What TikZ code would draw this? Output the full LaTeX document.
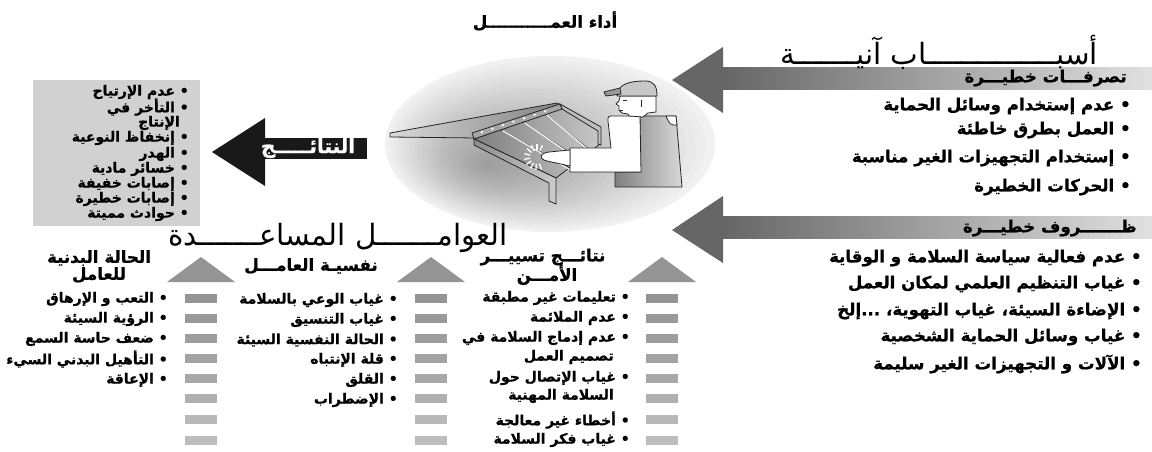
\documentclass[tikz,border=0pt]{standalone}
\usepackage{fontspec}
\usetikzlibrary{calc}
\TeXXeTstate=1
\newfontfamily\arabfont[Script=Arabic, BoldFeatures={FakeBold=0.8}]{DejaVu Sans}
\newcommand{\rtl}[1]{\beginR #1\endR}

\begin{document}
\begin{tikzpicture}[x=0.75pt,y=-0.75pt,
  itm/.style={anchor=east, inner sep=0pt, font=\arabfont\bfseries\fontsize{12.5}{14}\selectfont},
  boxitm/.style={anchor=east, inner sep=0pt, font=\arabfont\bfseries\fontsize{10.5}{12}\selectfont},
  colitm/.style={anchor=east, inner sep=0pt, font=\arabfont\bfseries\fontsize{10.5}{12}\selectfont},
  colhead/.style={anchor=center, inner sep=0pt, font=\arabfont\bfseries\fontsize{12.5}{14}\selectfont},
  bigtitle/.style={inner sep=0pt, font=\arabfont\fontsize{22}{24}\selectfont},
  bandtitle/.style={anchor=east, inner sep=0pt, font=\arabfont\bfseries\fontsize{12.5}{14}\selectfont},
  uptri/.style={fill=black!42},
  bar/.style={fill=black!#1},
  outline/.style={draw=black!85, line width=0.6pt}
]
\useasboundingbox (0,0) rectangle (1152,452);
\fill[white] (0,0) rectangle (1152,452);

% ---------- work scene ----------
% soft grey spot: stacked translucent ellipses, darkest towards the lower left
\fill[black!4] (550,144) ellipse [x radius=165, y radius=88];
\foreach \i in {1,...,24}{
  \pgfmathsetmacro\f{\i/24}
  \fill[black, opacity=0.016] ({550-65*(1-\f)},{144+22*(1-\f)}) ellipse [x radius={165*\f}, y radius={88*\f}];
}

% sloping feed plate
\shadedraw[left color=black!15, right color=black!50, outline]
  (390,133) -- (557,103) -- (563,107) -- (476,138) -- (390,137) -- cycle;

% sorting tray
\shadedraw[left color=black!50, right color=black!22, outline]
  (474,139) -- (562,108) -- (600,129) -- (600,144) -- (556,178) -- cycle;
\foreach \t in {0.3,0.55,0.8}{
  \draw[black!80, line width=0.6pt] ($(474,139)!\t!(562,108)$) -- ($(556,178)!\t!(600,144)$);
  \draw[white, line width=0.8pt] ($(474,139)!\t!(562,108)+(2,1)$) -- ($(556,178)!\t!(600,144)+(1,2)$);
}
% tray end wall
\filldraw[fill=black!25, outline] (560,104) -- (601,127) -- (601,145) -- (598,144) -- (598,131) -- (562,109) -- cycle;
% front rim with bolts
\filldraw[fill=black!35, outline] (472,133) -- (560,104) -- (562,109) -- (474,139) -- cycle;
\foreach \t in {0.1,0.22,0.34,0.46,0.58,0.7,0.82}{
  \fill[white] ($(473,135)!\t!(561,106)$) circle [radius=1.3];
}
% front board and leg
\shadedraw[left color=black!45, right color=black!20, outline]
  (474,139) -- (556,178) -- (556,204) -- (549,201) -- (549,183) -- (474,145) -- cycle;

% worker: vest
\shadedraw[left color=black!50, right color=black!15, outline]
  (640,116) -- (676,116) -- (682,187) -- (615,187) -- (615,172) -- (640,172) -- cycle;
\filldraw[fill=white, outline] (666,116) -- (676,116) -- (677,125) .. controls (670,125) .. (666,116);
% shirt sleeve and forearm
\filldraw[fill=white, outline]
  (608,121) .. controls (608,116) .. (614,116) -- (640,116) -- (641,172) -- (570,172) -- (570,148) -- (611,148) -- cycle;
% hand
\filldraw[fill=white, outline]
  (570,150) -- (549,152) .. controls (540,153) and (538,159) .. (547,161) -- (570,166) -- cycle;
% sparkle at the fingertips
\foreach \a in {70,95,...,300}{
  \draw[white, line width=1pt] ($(537,157)+(\a:7)$) -- ($(537,157)+(\a:13)$);
}
% head
\filldraw[fill=white, outline]
  (620,96) -- (619,101) -- (616,104) -- (619,106) -- (619,110) -- (622,113) -- (628,114)
  -- (629,116) -- (643,117) -- (648,113) -- (656,112) -- (656,96) -- cycle;
\draw[black!85, line width=0.6pt] (623,100) -- (627,100) (620,110) -- (623,110) (641,100) -- (641,107);
% cap
\filldraw[fill=black!22, outline] (617,96) .. controls (617,84) and (630,81) .. (645,81)
  .. controls (654,81) and (657,86) .. (657,96) -- cycle;
\filldraw[fill=black!40, outline] (604,92) -- (620,88) -- (621,94) -- (606,96) -- cycle;

\node[inner sep=0pt, font=\arabfont\bfseries\fontsize{12.5}{14}\selectfont] (perf) at (545,21) {\rtl{أداء العمـــــــــــل}};

% ---------- immediate causes ----------
\shade[left color=black!60, right color=black!12] (723,68) rectangle (1152,90);
\fill[black!60] (672,80) -- (723,47) -- (723,113) -- cycle;
\node[bigtitle, anchor=east] (causes) at (1098,52) {\rtl{أسبـــــــــــــــاب آنيـــــــة}};
\node[bandtitle] (acts) at (1127,78) {\rtl{تصرفـــات خطيـــرة}};
\node[itm] (a1) at (1131,106) {\rtl{• عدم إستخدام وسائل الحماية}};
\node[itm] (a2) at (1131,130) {\rtl{• العمل بطرق خاطئة}};
\node[itm] (a3) at (1131,158) {\rtl{• إستخدام التجهيزات الغير مناسبة}};
\node[itm] (a4) at (1131,187) {\rtl{• الحركات الخطيرة}};

\shade[left color=black!60, right color=black!12] (723,217) rectangle (1152,239);
\fill[black!60] (672,230) -- (723,196) -- (723,263) -- cycle;
\node[bandtitle] (conds) at (1137,228) {\rtl{ظـــــــروف خطيـــرة}};
\node[itm] (c1) at (1142,258) {\rtl{• عدم فعالية سياسة السلامة و الوقاية}};
\node[itm] (c2) at (1142,284) {\rtl{• غياب التنظيم العلمي لمكان العمل}};
\node[itm] (c3) at (1142,311) {\rtl{• الإضاءة السيئة، غياب التهوية، ...إلخ}};
\node[itm] (c4) at (1142,337) {\rtl{• غياب وسائل الحماية الشخصية}};
\node[itm] (c5) at (1142,364) {\rtl{• الآلات و التجهيزات الغير سليمة}};

% ---------- results ----------
\fill[black!90] (212,152) -- (265,118) -- (265,186) -- cycle;
\fill[black!90] (264,138) rectangle (367,159);
\node[inner sep=0pt, text=white, font=\arabfont\bfseries\fontsize{15}{17}\selectfont] (res) at (308,148) {\rtl{النتائـــــج}};

\fill[black!18] (33,80) rectangle (200,226);
\node[boxitm] (r1) at (189,92)  {\rtl{• عدم الإرتياح}};
\node[boxitm] (r2) at (189,107) {\rtl{• التأخر في}};
\node[boxitm] (r2b) at (180,123) {\rtl{الإنتاج}};
\node[boxitm] (r3) at (189,138) {\rtl{• إنخفاظ النوعية}};
\node[boxitm] (r4) at (189,154) {\rtl{• الهدر}};
\node[boxitm] (r5) at (189,169) {\rtl{• خسائر مادية}};
\node[boxitm] (r6) at (189,184) {\rtl{• إصابات خفيفة}};
\node[boxitm] (r7) at (189,199) {\rtl{• إصابات خطيرة}};
\node[boxitm] (r8) at (189,214) {\rtl{• حوادث مميتة}};

% ---------- contributing factors ----------
\node[bigtitle, anchor=east] (factors) at (508,238) {\rtl{العوامـــــــل المساعـــــــدة}};

\foreach \cx in {201,431,662}{
  \fill[uptri] (\cx-34,282) -- (\cx,257) -- (\cx+34,282) -- cycle;
  \foreach \y/\g in {294/42,314/40,334/38,354/36,374/34,394/31,415/28,436/26}{
    \fill[bar=\g] (\cx-16,\y) rectangle (\cx+16,\y+9);
  }
}

\node[colhead] (h1a) at (99,258) {\rtl{الحالة البدنية}};
\node[colhead] (h1b) at (99,275) {\rtl{للعامل}};
\node[colhead] (h2) at (311,266) {\rtl{نفسيـة العامـــل}};
\node[colhead] (h3a) at (543,257) {\rtl{نتائـــج تسييـــر}};
\node[colhead] (h3b) at (547,275) {\rtl{الأمـــن}};

\node[colitm] (p1) at (168,299) {\rtl{• التعب و الإرهاق}};
\node[colitm] (p2) at (168,319) {\rtl{• الرؤية السيئة}};
\node[colitm] (p3) at (168,339) {\rtl{• ضعف حاسة السمع}};
\node[colitm] (p4) at (168,359) {\rtl{• التأهيل البدني السيء}};
\node[colitm] (p5) at (168,380) {\rtl{• الإعاقة}};

\node[colitm] (m1) at (398,300) {\rtl{• غياب الوعي بالسلامة}};
\node[colitm] (m2) at (398,320) {\rtl{• غياب التنسيق}};
\node[colitm] (m3) at (398,340) {\rtl{• الحالة النفسية السيئة}};
\node[colitm] (m4) at (398,360) {\rtl{• قلة الإنتباه}};
\node[colitm] (m5) at (398,380) {\rtl{• القلق}};
\node[colitm] (m6) at (398,400) {\rtl{• الإضطراب}};

\node[colitm] (s1) at (630,298) {\rtl{• تعليمات غير مطبقة}};
\node[colitm] (s2) at (630,318) {\rtl{• عدم الملائمة}};
\node[colitm] (s3) at (630,338) {\rtl{• عدم إدماج السلامة في}};
\node[colitm] (s3b) at (614,357) {\rtl{تصميم العمل}};
\node[colitm] (s4) at (630,378) {\rtl{• غياب الإتصال حول}};
\node[colitm] (s4b) at (614,396) {\rtl{السلامة المهنية}};
\node[colitm] (s5) at (630,420) {\rtl{• أخطاء غير معالجة}};
\node[colitm] (s6) at (630,440) {\rtl{• غياب فكر السلامة}};
\end{tikzpicture}
\end{document}
